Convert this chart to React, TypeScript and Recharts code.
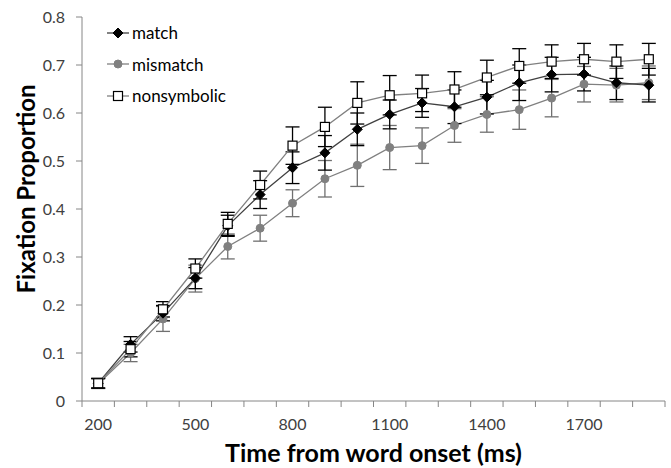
import React from "react";
import { LineChart, Line, XAxis, YAxis, ErrorBar, Legend } from "recharts";

// time bins (ms from word onset)
const TIMES = [200, 300, 400, 500, 600, 700, 800, 900, 1000, 1100, 1200, 1300, 1400, 1500, 1600, 1700, 1800, 1900];
const X_LABELS = [200, 500, 800, 1100, 1400, 1700];
const Y_TICKS = [0, 0.1, 0.2, 0.3, 0.4, 0.5, 0.6, 0.7, 0.8];

const MATCH = [0.037, 0.118, 0.183, 0.256, 0.365, 0.43, 0.486, 0.517, 0.566, 0.597, 0.621, 0.613, 0.633, 0.663, 0.68, 0.681, 0.663, 0.658];
const MATCH_ERR = [0.01, 0.016, 0.016, 0.022, 0.022, 0.029, 0.033, 0.036, 0.034, 0.03, 0.03, 0.035, 0.035, 0.037, 0.036, 0.035, 0.035, 0.035];
const MISMATCH = [0.036, 0.1, 0.171, 0.255, 0.322, 0.36, 0.412, 0.463, 0.491, 0.528, 0.532, 0.574, 0.597, 0.607, 0.631, 0.66, 0.658, 0.663];
const MISMATCH_ERR = [0.01, 0.018, 0.026, 0.028, 0.026, 0.027, 0.028, 0.038, 0.044, 0.046, 0.037, 0.035, 0.037, 0.041, 0.039, 0.037, 0.035, 0.035];
const NONSYM = [0.037, 0.108, 0.191, 0.276, 0.369, 0.45, 0.532, 0.571, 0.621, 0.637, 0.641, 0.649, 0.674, 0.698, 0.707, 0.712, 0.707, 0.712];
const NONSYM_ERR = [0.01, 0.016, 0.016, 0.02, 0.024, 0.029, 0.039, 0.041, 0.044, 0.041, 0.038, 0.037, 0.036, 0.036, 0.035, 0.033, 0.035, 0.033];

const data = TIMES.map((t, i) => ({
  t,
  match: MATCH[i],
  matchErr: MATCH_ERR[i],
  mismatch: MISMATCH[i],
  mismatchErr: MISMATCH_ERR[i],
  nonsymbolic: NONSYM[i],
  nonsymbolicErr: NONSYM_ERR[i],
}));

const STEP = TIMES[1] - TIMES[0];
// tick marks sit between the bins, like a category axis
const BOUNDARIES = [...TIMES.map((t) => t - STEP / 2), TIMES[TIMES.length - 1] + STEP / 2];
const X_TICKS = [...BOUNDARIES, ...X_LABELS];

const FONT = "Lato, 'Open Sans', sans-serif";
const AXIS = "#868686";

const Diamond = ({ cx, cy, size = 5 }: { cx: number; cy: number; size?: number }) => (
  <path d={`M${cx},${cy - size}L${cx + size},${cy}L${cx},${cy + size}L${cx - size},${cy}Z`} fill="#000" stroke="#000" strokeWidth={1} />
);
const Circle = ({ cx, cy }: { cx: number; cy: number }) => <circle cx={cx} cy={cy} r={4} fill="#808080" stroke="#808080" />;
const Square = ({ cx, cy }: { cx: number; cy: number }) => (
  <rect x={cx - 4.5} y={cy - 4.5} width={9} height={9} fill="#fff" stroke="#000" strokeWidth={1.2} />
);

const XTick = (props: any) => {
  const { x, y, payload } = props;
  const v = payload.value;
  if (BOUNDARIES.includes(v)) {
    return <line x1={x} x2={x} y1={y - 6} y2={y} stroke={AXIS} strokeWidth={1} />;
  }
  return (
    <text x={x} y={y + 23} textAnchor="middle" fontSize={16} fontFamily={FONT} fill="#404040">
      {v}
    </text>
  );
};

const LEGEND_ITEMS = [
  { name: "match", line: "#404040", Marker: Diamond },
  { name: "mismatch", line: "#808080", Marker: Circle },
  { name: "nonsymbolic", line: "#808080", Marker: Square },
];

const renderLegend = () => (
  <div style={{ fontFamily: FONT, fontSize: 17, color: "#000" }}>
    {LEGEND_ITEMS.map(({ name, line, Marker }) => (
      <div key={name} style={{ display: "flex", alignItems: "center", height: 31.5 }}>
        <svg width={24} height={14} style={{ marginRight: 2 }}>
          <line x1={1} x2={23} y1={7} y2={7} stroke={line} strokeWidth={1.3} />
          <Marker cx={12} cy={7} />
        </svg>
        <span>{name}</span>
      </div>
    ))}
  </div>
);

export default function App() {
  return (
    <div style={{ position: "absolute", left: 0, top: 0, background: "#fff" }}>
      <LineChart width={671} height={468} data={data} margin={{ top: 17, right: 6, bottom: 0, left: 0 }}>
        <XAxis
          dataKey="t"
          type="number"
          domain={[BOUNDARIES[0], BOUNDARIES[BOUNDARIES.length - 1]]}
          ticks={X_TICKS}
          interval={0}
          tick={<XTick />}
          tickLine={false}
          tickSize={6}
          tickMargin={0}
          height={67}
          axisLine={{ stroke: AXIS }}
          label={{
            value: "Time from word onset (ms)",
            position: "insideBottom",
            offset: 6,
            style: { fontFamily: FONT, fontSize: 25, fontWeight: 700, fill: "#000" },
          }}
        />
        <YAxis
          type="number"
          domain={[0, 0.8]}
          ticks={Y_TICKS}
          interval={0}
          width={82}
          tickSize={6}
          tickMargin={11}
          axisLine={{ stroke: AXIS }}
          tickLine={{ stroke: AXIS }}
          tick={{ fontSize: 16, fontFamily: FONT, fill: "#404040" }}
          tickFormatter={(v: number) => (v === 0 ? "0" : v.toFixed(1))}
          label={{
            content: () => (
              <text
                x={25}
                y={189}
                transform="rotate(-90 25 189)"
                textAnchor="middle"
                dominantBaseline="central"
                fontFamily={FONT}
                fontSize={24}
                fontWeight={700}
                fill="#000"
              >
                Fixation Proportion
              </text>
            ),
          }}
        />
        <Legend
          content={renderLegend}
          layout="horizontal"
          verticalAlign="middle"
          align="center"
          wrapperStyle={{ left: 106, top: 17, width: "auto" }}
        />
        <Line
          dataKey="mismatch"
          stroke="#808080"
          strokeWidth={1.3}
          isAnimationActive={false}
          dot={(p: any) => <Circle key={p.key} cx={p.cx} cy={p.cy} />}
          activeDot={false}
        >
          <ErrorBar dataKey="mismatchErr" direction="y" width={7} stroke="#707070" strokeWidth={1.3} />
        </Line>
        <Line
          dataKey="match"
          stroke="#404040"
          strokeWidth={1.3}
          isAnimationActive={false}
          dot={(p: any) => <Diamond key={p.key} cx={p.cx} cy={p.cy} />}
          activeDot={false}
        >
          <ErrorBar dataKey="matchErr" direction="y" width={7} stroke="#000" strokeWidth={1.3} />
        </Line>
        <Line
          dataKey="nonsymbolic"
          stroke="#808080"
          strokeWidth={1.3}
          isAnimationActive={false}
          dot={(p: any) => <Square key={p.key} cx={p.cx} cy={p.cy} />}
          activeDot={false}
        >
          <ErrorBar dataKey="nonsymbolicErr" direction="y" width={7} stroke="#000" strokeWidth={1.3} />
        </Line>
      </LineChart>
    </div>
  );
}
